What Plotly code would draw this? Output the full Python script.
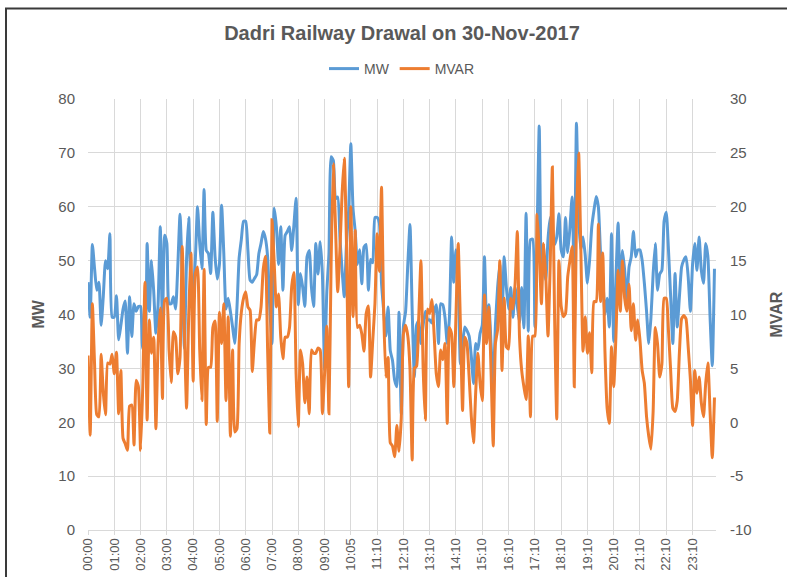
import plotly.graph_objects as go

title_text = "Dadri Railway Drawal on 30-Nov-2017"

tick_labels = ["00:00", "01:00", "02:00", "03:00", "04:00", "05:00", "06:00", "07:00",
               "08:00", "09:00", "10:05", "11:10", "12:10", "13:10", "14:10", "15:10",
               "16:10", "17:10", "18:10", "19:10", "20:10", "21:10", "22:10", "23:10"]

mw_ticks = [0, 10, 20, 30, 40, 50, 60, 70, 80]
mvar_ticks = [-10, -5, 0, 5, 10, 15, 20, 25, 30]
mvar_tick_text = ["-10", "-5", "0", "5", "10", "15", "20", "25", "30"]

mw = [
    46, 39.5, 53, 48.5, 44.5, 46, 38, 43.5, 50, 48.5, 55, 39.5,
    39.5, 43.5, 35.3, 38, 41, 42.5, 32.8, 43.3, 35.9, 42, 40.6, 41.5,
    41.5, 33.7, 34.5, 53.2, 40.6, 50, 44.3, 36.5, 41.8, 56.3, 37.7, 54.7,
    53.2, 42, 42, 43.3, 41, 49, 58.6, 47.7, 33.7, 50.2, 58, 45.8,
    44.5, 50.2, 60, 53.2, 48.5, 63.2, 51.9, 51.3, 47.6, 59, 50.8, 46.6,
    49.3, 60.3, 51.3, 41, 43, 40.6, 37.7, 34.6, 41.2, 50.5, 53.9, 57.3,
    57.3, 51.9, 46.4, 46, 46.7, 47.4, 51.3, 53.2, 55.4, 54.1, 50.7, 41,
    34.6, 59.7, 56.3, 49.3, 56.3, 44.5, 54.7, 55.4, 56.3, 51.9, 56.6, 61.6,
    41.8, 47.6, 45.1, 41.5, 50.7, 51.9, 45.1, 41.5, 53.2, 47.5, 53.5, 47.6,
    29.7, 44, 51.3, 69.3, 68.6, 61.5, 61.8, 54.4, 48.2, 43.3, 53.2, 59.4,
    71.7, 59.6, 55.4, 49.3, 52, 45.7, 52.5, 53, 44.5, 50.2, 49.6, 58,
    58, 57, 45.8, 40.6, 36, 41.4, 33.3, 31.5, 27.8, 26.6, 40.4, 21.5,
    37.8, 40.6, 49.3, 56.7, 40.6, 28.4, 38, 38.9, 34.6, 38, 40.6, 39,
    39, 38.4, 40.6, 41.8, 34.6, 42, 41.8, 39.4, 34.6, 39.4, 54.4, 46,
    52, 46.4, 30.8, 34.6, 37.7, 37, 36, 32.2, 27.2, 34.6, 33.5, 36.5,
    38, 50.7, 38, 41.8, 34.6, 27.2, 38, 45, 49.3, 39, 50.7, 45,
    41, 45, 39.5, 45, 41.5, 38.5, 45, 37.5, 58.8, 36.9, 53.9, 54,
    37.7, 54.4, 75, 46.4, 50.7, 46.4, 54, 58, 55.4, 53, 54.4, 58.7,
    52, 50.7, 58, 51.5, 56, 61.8, 45.8, 75.5, 58, 52, 54.4, 51,
    45.8, 50.1, 56.3, 59.4, 61.9, 60, 51.3, 47, 40, 43, 37.7, 55,
    35, 46.4, 57, 44.3, 51.9, 48.2, 42.5, 48.8, 50.7, 55.4, 50.7, 52,
    52, 50, 45.8, 40.6, 34.6, 39.4, 47.5, 53.2, 44.5, 47.5, 48.2, 57.3,
    59, 52, 43.3, 34.6, 47.6, 37.7, 43.3, 48.8, 50.1, 50.7, 47, 40.6,
    49.3, 53.2, 48.2, 54.4, 48.2, 45.8, 53.2, 50.7, 39.4, 30.5, 48.5,
]

mvar = [
    6.2, -1.2, 11, 5.4, 0.7, 0.5, 6.3, 2.7, 0.7, 5.5, 5.4, 6.3,
    4.5, 6.5, 0.8, 4.8, -1.5, -2, -2.6, 1.5, 1.6, -2.1, 3.9, 3.3,
    -2.6, 3.3, 13, 0.2, 9.5, 6.4, 7.9, -0.6, 7.3, 10.6, 2.2, 11.3,
    11.5, 6.7, 3.7, 8.4, 7.9, 4.5, 6, 16.3, 8.6, 1.3, 10.1, 15.7,
    3.8, 13.8, 14.4, 6.7, 2, 14.2, -0.2, 5.1, 5.1, 8.8, 9.4, 0.1,
    10.2, 7.3, 11, 2, 9.8, -1.3, 6.7, -0.9, -0.6, 7.3, 10.2, 11.5,
    12.1, 10.7, 10.4, 4.7, 7.6, 9.5, 9.5, 10.7, 14.2, 15.4, 6.7, -1,
    18.8, 14.8, 10.7, 11.9, 7.9, 5.9, 7.9, 7.9, 8.8, 12.6, 13.9, 4.5,
    -0.4, 6.7, 5.4, 1.8, 4.2, 0.8, 6.7, 6.4, 6.4, 6.9, 6.7, 0.8,
    4.5, 8.9, 0.8, 15, 24, 18.1, 12.1, 16, 21.2, 24.5, 16.6, 3.3,
    20, 9.8, 17.8, 8.8, 9, 8.2, 6.6, 10.1, 10.8, 4.2, 7.6, 11,
    17.5, 14, 21.8, 10.1, 4.2, 6, -1.9, -2.2, -3.2, -0.3, -2.7, 0.3,
    8.2, 9, 8, 4.9, -3.5, 5, 5.2, 9.8, 15, 5, 0.2, 10.5,
    10.1, 11.4, 8.2, 4.5, 3.3, 6.7, 5.8, 7.3, -0.1, 8.8, 8.2, 3.3,
    10, 16.6, 9.2, 1.1, 7.9, 7.3, 4.2, 0.5, -1.9, 2.8, 6.4, 3.6,
    2, 11.8, 7.3, 10.7, 4.8, -2.2, 7.3, 8.6, 15, 4.8, 11.5, 7,
    6.8, 11.5, 10.5, 12.9, 17.7, 7.9, 4.8, 3.3, 2.1, 8, 0.5, 8,
    8, 19.3, 16, 11, 16.6, 13.5, 8, 14.5, 23.7, 10, 0.3, 15,
    10.8, 9.8, 10.1, 13.5, 15, 16.3, 3.3, 19, 25, 16, 6.6, 9.8,
    6.4, 8.3, 4.6, 11.2, 11.2, 18.4, 11.2, 15.7, 6.6, 1.3, -0.1, 7,
    3.3, 7.9, 14.1, 10.3, 15, 11.5, 10.3, 12.8, 8.5, 11, 7.6, 9.5,
    7.6, 4.8, 3.6, 0.5, -1.3, -2.5, 1, 8.8, 7.3, 4.2, 5.4, 11.5,
    11.5, 8.5, 4.8, 1.3, 1, 2, 6.5, 9.6, 9.9, 9.6, 7, 4,
    -0.3, 4.8, 2.7, 4.2, 1.8, 0.5, 3.6, 5.5, 0.9, -3.3, 2.3,
]

x_idx = list(range(len(mw)))
tick_pos = [i * 12 for i in range(len(tick_labels))]

GRAY = "#595959"
GRID = "#d9d9d9"
FONT = "Liberation Sans"

W, H = 787, 577
L, T, R, B = 88, 99, 71, 47
PW = W - L - R
PH = H - T - B

fig = go.Figure()
fig.add_trace(go.Scatter(x=x_idx, y=mw, name="MW", mode="lines",
                         line=dict(color="#5b9bd5", width=3, shape="spline", smoothing=0.5)))
fig.add_trace(go.Scatter(x=x_idx, y=mvar, name="MVAR", mode="lines", yaxis="y2",
                         line=dict(color="#ed7d31", width=3, shape="spline", smoothing=0.5)))

fig.update_layout(
    width=W, height=H,
    margin=dict(l=L, r=R, t=T, b=B, autoexpand=False),
    paper_bgcolor="white", plot_bgcolor="white",
    font=dict(family=FONT, color=GRAY),
    title=dict(text="<b>" + title_text + "</b>", x=0.5, xref="paper", xanchor="center",
               y=1 - 33 / H, yanchor="middle",
               font=dict(family=FONT, size=20, color=GRAY)),
    showlegend=True,
    legend=dict(orientation="h", x=0.5, xanchor="center", y=(H - B - 69) / PH, yanchor="middle",
                font=dict(size=14, color=GRAY), itemwidth=30, tracegroupgap=0,
                bgcolor="rgba(0,0,0,0)"),
    xaxis=dict(range=[0, 286.7], tickmode="array", tickvals=tick_pos, ticktext=tick_labels,
               tickangle=-90, showgrid=True, gridcolor=GRID, gridwidth=1,
               showline=True, linecolor=GRID, linewidth=1,
               ticks="outside", ticklen=4, tickcolor=GRID, ticklabelstandoff=-2,
               tickfont=dict(size=13, color=GRAY), zeroline=False, automargin=False),
    yaxis=dict(range=[0, 80], tickmode="array", tickvals=mw_ticks,
               showgrid=True, gridcolor=GRID, gridwidth=1,
               zeroline=False, showline=False, tickfont=dict(size=15, color=GRAY),
               ticklabelstandoff=12, automargin=False),
    yaxis2=dict(range=[-10, 30], tickmode="array", tickvals=mvar_ticks, ticktext=mvar_tick_text,
                overlaying="y", side="right",
                showgrid=False, zeroline=False, showline=False,
                tickfont=dict(size=15, color=GRAY), ticklabelstandoff=13, automargin=False),
)

fig.add_annotation(text="<b>MW</b>", xref="paper", yref="paper", x=(38 - L) / PW, y=0.5,
                   xanchor="center", yanchor="middle",
                   textangle=-90, showarrow=False, font=dict(size=16, color=GRAY))
fig.add_annotation(text="<b>MVAR</b>", xref="paper", yref="paper", x=(776 - L) / PW, y=0.5,
                   xanchor="center", yanchor="middle",
                   textangle=-90, showarrow=False, font=dict(size=16, color=GRAY))

# chart border (cropped at right/bottom)
fig.add_shape(type="rect", xref="paper", yref="paper",
              x0=(6 - L) / PW, x1=1.3, y0=-0.3, y1=(H - B - 8.5) / PH,
              line=dict(color="#3a3a3a", width=2), fillcolor="rgba(0,0,0,0)", layer="above")

fig.write_html("out.html", config={"displayModeBar": False},
               post_script="document.body.style.margin='0';document.body.style.overflow='hidden';")
